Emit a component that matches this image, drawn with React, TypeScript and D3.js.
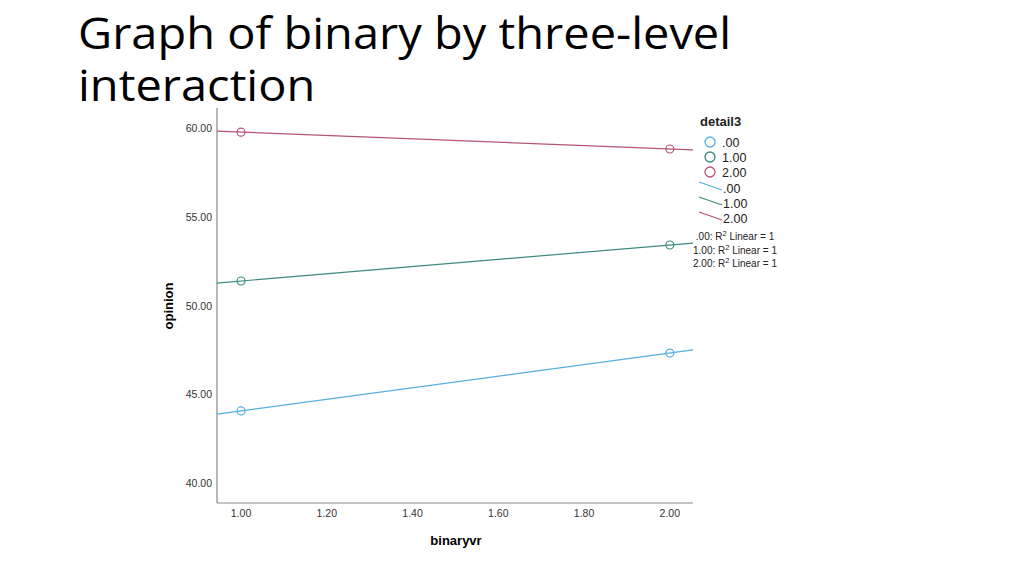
import React from 'react';
import * as d3 from 'd3';

const groups = ['.00', '1.00', '2.00'];
const groupColors = ['#56aee0', '#3b8a7e', '#b5527a'];
const xValues = [1, 2];
const opinionValues = [
  [44.06, 47.32],
  [51.38, 53.41],
  [59.77, 58.82],
];
const xTicks = [1.0, 1.2, 1.4, 1.6, 1.8, 2.0];
const yTicks = [40, 45, 50, 55, 60];

const W = 1024;
const H = 575;

const App = () => {
  const x = d3.scaleLinear().domain([0.944, 2.054]).range([217, 693]);
  const y = d3.scaleLinear().domain([38.87, 61.13]).range([503, 108]);

  // straight fit through the two group means
  const fit = (vals: number[]) => {
    const slope = (vals[1] - vals[0]) / (xValues[1] - xValues[0]);
    return (xv: number) => vals[0] + slope * (xv - xValues[0]);
  };

  const labelFont = '"Liberation Sans", Arial, sans-serif';

  return (
    <svg width={W} height={H} style={{ position: 'absolute', left: 0, top: 0, background: '#fff' }}>
      <defs>
        <clipPath id="titleClip">
          <rect x={0} y={0} width={W} height={103} />
        </clipPath>
      </defs>
      <g clipPath="url(#titleClip)">
        <g
          transform="translate(78,0) scale(1.093,1)"
          fontFamily='"Open Sans", "Noto Sans", sans-serif'
          fontSize={43}
          fill="#000"
        >
          <text x={0} y={49.5}>Graph of binary by three-level</text>
          <text x={0} y={101.5}>interaction</text>
        </g>
      </g>

      {/* axes */}
      <line x1={217} x2={217} y1={108} y2={503} stroke="#888" strokeWidth={1.2} />
      <line x1={217} x2={693} y1={503} y2={503} stroke="#888" strokeWidth={1.2} />

      {yTicks.map((t) => (
        <text key={t} x={212} y={y(t) + 4} textAnchor="end" fontFamily={labelFont} fontSize={10.5} fill="#333">
          {t.toFixed(2)}
        </text>
      ))}
      {xTicks.map((t) => (
        <text key={t} x={x(t)} y={517} textAnchor="middle" fontFamily={labelFont} fontSize={10.5} fill="#333">
          {t.toFixed(2)}
        </text>
      ))}
      <text x={456} y={545} textAnchor="middle" fontFamily={labelFont} fontSize={13} fontWeight="bold">
        binaryvr
      </text>
      <text
        transform="translate(173,306) rotate(-90)"
        textAnchor="middle"
        fontFamily={labelFont}
        fontSize={13}
        fontWeight="bold"
      >
        opinion
      </text>

      {/* fit lines and points */}
      {opinionValues.map((vals, i) => {
        const f = fit(vals);
        const d = d3
          .line<number>()
          .x((v) => x(v))
          .y((v) => y(f(v)))(x.domain());
        return (
          <g key={groups[i]}>
            <path d={d || ''} stroke={groupColors[i]} strokeWidth={1.2} fill="none" />
            {xValues.map((xv, j) => (
              <circle key={j} cx={x(xv)} cy={y(vals[j])} r={4} fill="none" stroke={groupColors[i]} strokeWidth={1.2} />
            ))}
          </g>
        );
      })}

      {/* legend */}
      <g fontFamily={labelFont} fontSize={12.5} fill="#222">
        <text x={700} y={126} fontWeight="bold" fontSize={13}>detail3</text>
        {groups.map((g, i) => (
          <g key={'c' + g}>
            <circle cx={710} cy={142 + i * 15} r={5} fill="none" stroke={groupColors[i]} strokeWidth={1.3} />
            <text x={722} y={146.5 + i * 15}>{g}</text>
          </g>
        ))}
        {groups.map((g, i) => (
          <g key={'l' + g}>
            <line x1={699} y1={182 + i * 15} x2={722} y2={190 + i * 15} stroke={groupColors[i]} strokeWidth={1.2} />
            <text x={723} y={192.5 + i * 15}>{g}</text>
          </g>
        ))}
        {groups.map((g, i) => (
          <text key={'r' + g} x={735} y={240 + i * 13.5} textAnchor="middle" fontSize={10}>
            {g}: R<tspan dy={-4} fontSize={7.5}>2</tspan>
            <tspan dy={4}> Linear = 1</tspan>
          </text>
        ))}
      </g>
    </svg>
  );
};

export default App;
